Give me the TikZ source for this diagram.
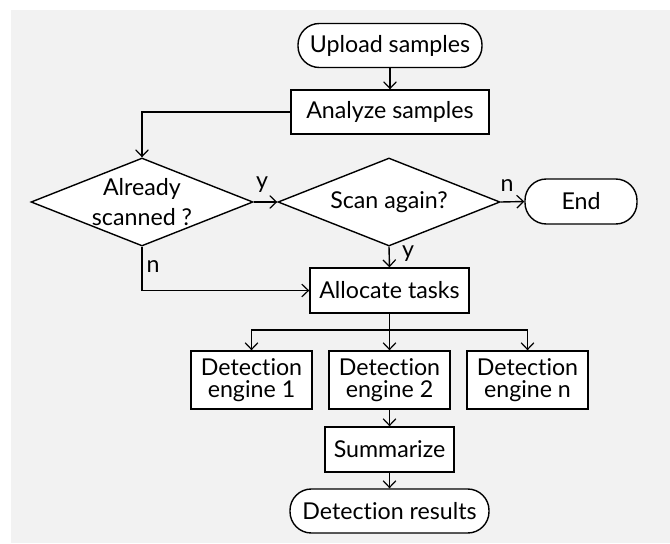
\documentclass[tikz,border=0pt]{standalone}
\usepackage{fontspec}
\setmainfont{Lato}[Ligatures=NoCommon]
\usetikzlibrary{arrows.meta,shapes.geometric}
\definecolor{panel}{HTML}{F2F2F2}
\begin{document}
\begin{tikzpicture}[x=0.75pt,y=-0.75pt,
  every node/.style={font=\fontsize{17.4}{20}\selectfont},
  box/.style={draw,fill=white,line width=1.05pt,rectangle,inner sep=0pt,align=center},
  term/.style={box,rounded corners=16pt},
  decision/.style={draw,fill=white,line width=1.05pt,diamond,inner sep=0pt,
    minimum width=166.5pt,minimum height=66pt},
  arr/.style={line width=1.05pt,-{Straight Barb[length=5pt,width=9.5pt,line width=0.9pt]}},
  tag/.style={inner sep=0pt}]
  % canvas
  \useasboundingbox (0,0) rectangle (670,543);
  \fill[panel] (11,10) rectangle (670,543);

  % nodes
  \node[term,minimum width=138pt,minimum height=33pt] (up) at (390,45.5) {Upload samples};
  \node[box,minimum width=148.5pt,minimum height=33pt] (an) at (390,112) {Analyze samples};
  \node[decision,label={[align=center,font=\fontsize{17.4}{22.5}\selectfont]center:Already\\scanned ?}] (d1) at (142,202) {};
  \node[decision,label={center:Scan again?}] (d2) at (389,202) {};
  \node[term,minimum width=84pt,minimum height=33.75pt] (end) at (581,201.5) {End};
  \node[box,minimum width=119.25pt,minimum height=33.75pt] (alloc) at (389.5,290.5) {Allocate tasks};
  \tikzset{engine/.style={box,minimum width=90.75pt,minimum height=43.5pt,
    font=\fontsize{17.4}{16.5}\selectfont}}
  \node[engine] (e1) at (251.5,380) {Detection\\engine 1};
  \node[engine] (e2) at (389.5,380) {Detection\\engine 2};
  \node[engine] (en) at (527.5,380) {Detection\\engine n};
  \node[box,minimum width=96.75pt,minimum height=33.75pt] (sum) at (389.5,449.5) {Summarize};
  \node[term,minimum width=149.25pt,minimum height=33pt] (res) at (389.5,511) {Detection results};

  % junction points
  \coordinate (bend) at (142,112);
  \coordinate (low) at (142,290.5);
  \coordinate (br) at (389.5,330);

  % connectors
  \draw[arr] (up) -- (an);
  \draw[arr] (an.west) -- (bend) -- (d1.north);
  \draw[arr] (d1.east) -- (d2.west);
  \draw[arr] (d2.east) -- (end.west);
  \draw[arr] (d2.south) -- (alloc.north);
  \draw[arr] (d1.south) -- (low) -- (alloc.west);
  \draw[arr] (alloc.south) -- (br) -| (e1.north);
  \draw[arr] (alloc.south) -- (e2.north);
  \draw[arr] (alloc.south) -- (br) -| (en.north);
  \draw[arr] (e2) -- (sum);
  \draw[arr] (sum) -- (res);

  % branch labels
  \node[tag] (ly1) at (262,185) {y};
  \node[tag] (ln2) at (507,186) {n};
  \node[tag] (ly2) at (408,254) {y};
  \node[tag] (ln1) at (153,267) {n};
\end{tikzpicture}
\end{document}
